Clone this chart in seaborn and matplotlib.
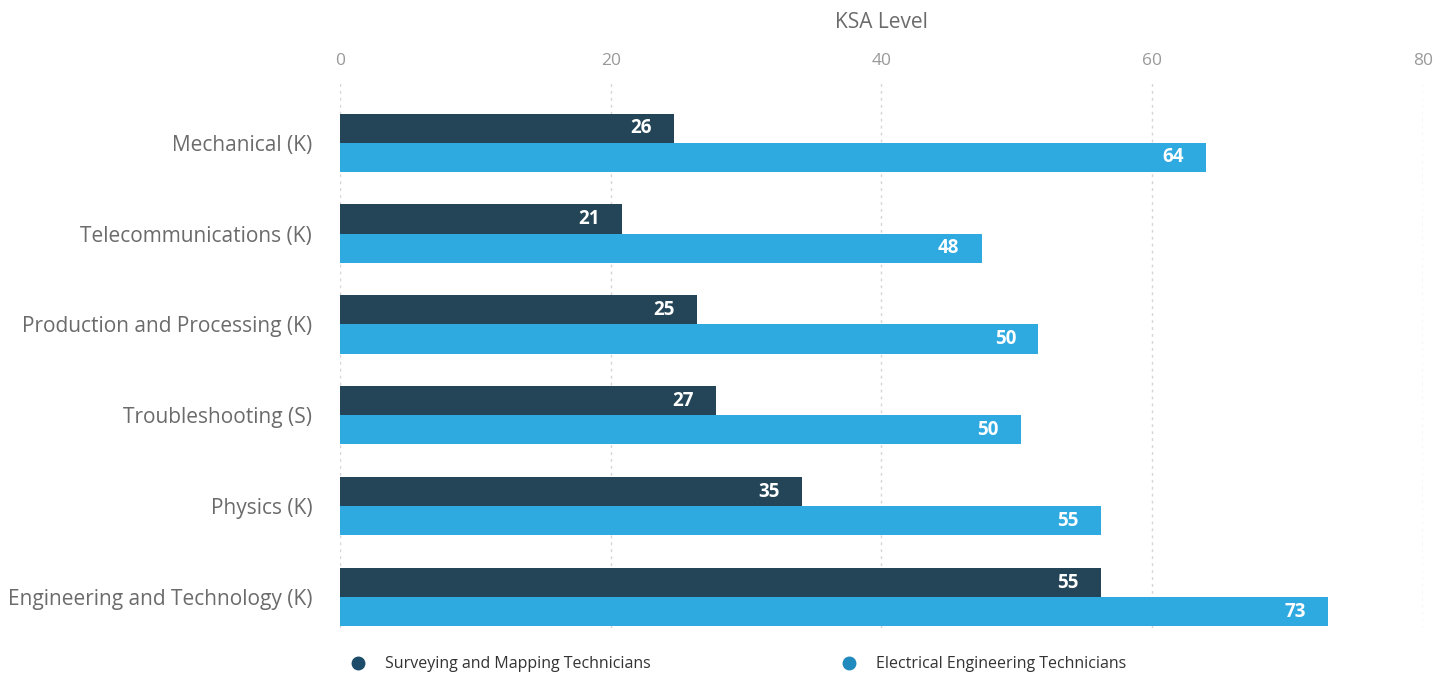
import numpy as np
import pandas as pd
import matplotlib
matplotlib.use('Agg')
import matplotlib.pyplot as plt
from matplotlib.lines import Line2D
import seaborn as sns

# podaci ocitani sa slike
skills = ['Mechanical (K)', 'Telecommunications (K)', 'Production and Processing (K)',
          'Troubleshooting (S)', 'Physics (K)', 'Engineering and Technology (K)']
series = ['Surveying and Mapping Technicians', 'Electrical Engineering Technicians']
surveying = [24.7, 20.8, 26.4, 27.8, 34.1, 56.2]
electrical = [64.0, 47.4, 51.6, 50.3, 56.2, 73.0]
surveying_lbl = ['26', '21', '25', '27', '35', '55']
electrical_lbl = ['64', '48', '50', '50', '55', '73']
ticks = [0, 20, 40, 60, 80]

df = pd.DataFrame({
    'skill': skills * 2,
    'occupation': [series[0]] * 6 + [series[1]] * 6,
    'level': surveying + electrical,
})

sns.set_style('white')
plt.rcParams['font.family'] = ['Open Sans', 'DejaVu Sans']

bar_cols = ['#234557', '#2eaae1']
dot_cols = ['#1c4c69', '#2089bd']

fig = plt.figure(figsize=[14.48, 6.75], dpi=100)
ax = fig.add_axes([0.2348, 0.0696, 0.7479, 0.8119])

sns.barplot(data=df, y='skill', x='level', hue='occupation', orient='h',
            palette=bar_cols, width=0.64, saturation=1, legend=False,
            linewidth=0, ax=ax)

ax.set_xlim(0, 80)
ax.set_ylim(5.34, -0.69)
ax.xaxis.tick_top()
ax.xaxis.set_label_position('top')
ax.set_xticks(ticks)
ax.tick_params(axis='x', length=0, pad=8, labelsize=12.5, labelcolor='#999999')
ax.tick_params(axis='y', length=0, pad=20, labelsize=15, labelcolor='#6b6b6b')
ax.set_xlabel('KSA Level', fontsize=15, color='#6b6b6b', labelpad=18)
ax.set_ylabel('')
for s in ax.spines.values():
    s.set_visible(False)
ax.grid(axis='x', color='#d5d5d5', linestyle=(0, (2, 3)), linewidth=1)
ax.set_axisbelow(True)

# vrijednosti unutar stupaca
labels = surveying_lbl + electrical_lbl
for p, lbl in zip(ax.patches, labels):
    y = p.get_y() + p.get_height() / 2
    ax.annotate(lbl, (p.get_width(), y), xytext=(-16, 0), textcoords='offset points',
                ha='right', va='center', color='white', fontsize=13.5, fontweight='bold')

handles = [Line2D([], [], marker='o', linestyle='', markersize=9, color=c) for c in dot_cols]
fig.legend(handles, series, loc='center left', bbox_to_anchor=(0.232, 0.016), ncol=2,
           frameon=False, fontsize=11.5, labelcolor='#333333', handletextpad=1.2,
           columnspacing=11.9, handlelength=1.0)

fig.savefig('out.png', dpi=100)
